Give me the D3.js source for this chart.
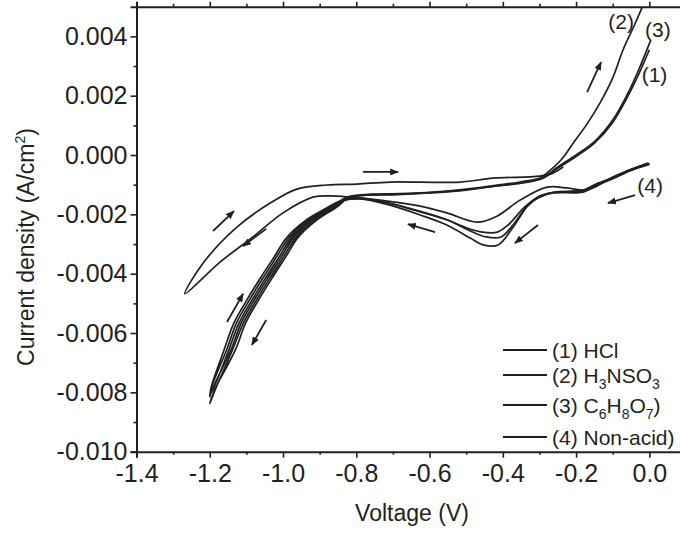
<!DOCTYPE html>
<html lang="en">
<head>
<meta charset="UTF-8">
<title>Current density vs voltage</title>
<script src="https://d3js.org/d3.v7.min.js"></script>
<style>
  body { margin: 0; background: #fff; }
  svg { display: block; font-family: "Liberation Sans", Arial, sans-serif; }
  .curve { fill: none; stroke: #231f20; stroke-width: 1.7; stroke-linejoin: round; }
</style>
</head>
<body>
<svg id="chart" width="680" height="535"></svg>
<script>
// voltage (V), current density (A/cm2)
const hcl = [
  [0.000,-0.00032],[-0.050,-0.00052],[-0.100,-0.00080],[-0.150,-0.00105],[-0.181,-0.00125],
  [-0.263,-0.00128],[-0.299,-0.00142],[-0.326,-0.00162],[-0.372,-0.00243],[-0.413,-0.00303],
  [-0.454,-0.00303],[-0.489,-0.00280],[-0.553,-0.00236],[-0.626,-0.00202],[-0.708,-0.00169],
  [-0.790,-0.00148],[-0.830,-0.00152],[-0.858,-0.00175],[-0.914,-0.00219],[-0.964,-0.00276],
  [-0.999,-0.00344],[-1.034,-0.00411],[-1.073,-0.00489],[-1.108,-0.00566],[-1.138,-0.00657],
  [-1.182,-0.00782],[-1.200,-0.00838],[-1.188,-0.00795],[-1.130,-0.00657],[-1.102,-0.00566],
  [-1.067,-0.00489],[-1.028,-0.00411],[-0.993,-0.00344],[-0.958,-0.00276],[-0.908,-0.00219],
  [-0.853,-0.00175],[-0.822,-0.00145],
  [-0.780,-0.00136],[-0.700,-0.00134],[-0.600,-0.00128],[-0.500,-0.00118],[-0.420,-0.00105],
  [-0.350,-0.00095],[-0.290,-0.00078],[-0.250,-0.00045],[-0.200,-0.00005],[-0.150,0.00040],
  [-0.100,0.00110],[-0.060,0.00195],[-0.030,0.00270],[0.000,0.00355]
];
const sulfamic = [
  [0.000,-0.00028],[-0.050,-0.00048],[-0.100,-0.00076],[-0.150,-0.00100],[-0.180,-0.00118],
  [-0.260,-0.00125],[-0.300,-0.00138],[-0.340,-0.00175],[-0.385,-0.00235],[-0.415,-0.00260],
  [-0.455,-0.00260],[-0.500,-0.00245],[-0.560,-0.00215],[-0.640,-0.00185],[-0.720,-0.00160],
  [-0.800,-0.00147],[-0.845,-0.00155],[-0.880,-0.00178],[-0.940,-0.00222],[-0.990,-0.00278],
  [-1.025,-0.00345],[-1.060,-0.00411],[-1.099,-0.00489],[-1.134,-0.00566],[-1.161,-0.00657],
  [-1.196,-0.00782],[-1.200,-0.00815],[-1.193,-0.00775],[-1.154,-0.00657],[-1.127,-0.00566],
  [-1.092,-0.00489],[-1.053,-0.00411],[-1.018,-0.00344],[-0.982,-0.00276],[-0.932,-0.00219],
  [-0.868,-0.00175],[-0.830,-0.00145],
  [-0.770,-0.00134],[-0.690,-0.00132],[-0.600,-0.00127],[-0.510,-0.00118],[-0.430,-0.00106],
  [-0.360,-0.00095],[-0.300,-0.00080],[-0.280,-0.00061],[-0.240,-0.00015],[-0.208,0.00040],
  [-0.170,0.00105],[-0.135,0.00175],[-0.100,0.00260],[-0.072,0.00354],[-0.040,0.00440],
  [-0.017,0.00506],[0.000,0.00560]
];
const citric = [
  [0.000,-0.00030],[-0.050,-0.00050],[-0.100,-0.00078],[-0.150,-0.00103],[-0.180,-0.00120],
  [-0.270,-0.00128],[-0.305,-0.00145],[-0.335,-0.00175],[-0.375,-0.00240],[-0.405,-0.00276],
  [-0.445,-0.00276],[-0.490,-0.00255],[-0.550,-0.00220],[-0.630,-0.00190],[-0.710,-0.00162],
  [-0.790,-0.00145],[-0.835,-0.00152],[-0.866,-0.00176],[-0.926,-0.00219],[-0.976,-0.00276],
  [-1.011,-0.00344],[-1.046,-0.00411],[-1.085,-0.00489],[-1.120,-0.00566],[-1.148,-0.00657],
  [-1.188,-0.00782],[-1.198,-0.00805],[-1.186,-0.00770],[-1.142,-0.00657],[-1.114,-0.00566],
  [-1.079,-0.00489],[-1.040,-0.00411],[-1.005,-0.00344],[-0.970,-0.00276],[-0.920,-0.00219],
  [-0.860,-0.00175],[-0.826,-0.00142],
  [-0.760,-0.00132],[-0.680,-0.00130],[-0.590,-0.00125],[-0.500,-0.00115],[-0.420,-0.00102],
  [-0.350,-0.00090],[-0.290,-0.00074],[-0.250,-0.00040],[-0.200,0.00000],[-0.150,0.00045],
  [-0.100,0.00118],[-0.060,0.00205],[-0.030,0.00285],[0.003,0.00385]
];
const nonAcid = [
  [-0.004,-0.00027],[-0.094,-0.00071],[-0.170,-0.00118],[-0.225,-0.00111],[-0.279,-0.00108],
  [-0.353,-0.00152],[-0.416,-0.00206],[-0.470,-0.00226],[-0.553,-0.00195],[-0.640,-0.00169],
  [-0.735,-0.00152],[-0.817,-0.00142],[-0.872,-0.00138],[-0.918,-0.00142],[-1.000,-0.00195],
  [-1.082,-0.00276],[-1.172,-0.00361],[-1.268,-0.00468],[-1.218,-0.00364],[-1.126,-0.00243],
  [-1.035,-0.00162],[-0.962,-0.00115],[-0.880,-0.00101],[-0.798,-0.00098],[-0.708,-0.00091],
  [-0.517,-0.00091],[-0.427,-0.00078],[-0.299,-0.00071],[-0.263,-0.00061],[-0.235,-0.00040]
];

const series = [hcl, sulfamic, citric, nonAcid];

// curve tags written inside the plot: text, voltage, current density
const curveTags = [["(1)", 0.014, 0.00246], ["(2)", -0.077, 0.00425], ["(3)", 0.023, 0.00398], ["(4)", 0.002, -0.00128]];

// sweep arrows: [V tail, J tail, V head, J head]
const arrows = [
  [-0.170, 0.00212, -0.132, 0.00313],
  [-0.782, -0.00057, -0.686, -0.00057],
  [-0.039, -0.00135, -0.113, -0.00162],
  [-0.304, -0.00236, -0.367, -0.00297],
  [-0.585, -0.00260, -0.659, -0.00233],
  [-1.191, -0.00256, -1.134, -0.00189],
  [-1.046, -0.00249, -1.109, -0.00307],
  [-1.153, -0.00563, -1.109, -0.00468],
  [-1.046, -0.00556, -1.085, -0.00640]
];

const legendItems = [
  [["(1) HCl", false]],
  [["(2) H", false], ["3", true], ["NSO", false], ["3", true]],
  [["(3) C", false], ["6", true], ["H", false], ["8", true], ["O", false], ["7", true], [")", false]],
  [["(4) Non-acid)", false]]
];

const xTicks = [-1.4, -1.2, -1.0, -0.8, -0.6, -0.4, -0.2, 0.0];
const xMinor = [-1.3, -1.1, -0.9, -0.7, -0.5, -0.3, -0.1];
const yTicks = [-0.010, -0.008, -0.006, -0.004, -0.002, 0.000, 0.002, 0.004];
const yMinor = [-0.009, -0.007, -0.005, -0.003, -0.001, 0.001, 0.003];

const ink = "#231f20";
const font = "'Liberation Sans', Arial, sans-serif";
const plotLeft = 136.5, plotRight = 686, plotTop = 6.7, plotBottom = 451.7;

const svg = d3.select("#chart");

const x = d3.scaleLinear().domain([-1.4, 0.1]).range([plotLeft, plotRight]);
const y = d3.scaleLinear().domain([-0.010, 0.005]).range([plotBottom, plotTop]);

const defs = svg.append("defs");
defs.append("clipPath").attr("id", "plot")
   .append("rect").attr("x", plotLeft).attr("y", plotTop)
   .attr("width", plotRight - plotLeft).attr("height", plotBottom - plotTop);

// axes
svg.append("g")
   .attr("transform", `translate(0,${plotBottom})`)
   .call(d3.axisBottom(x).tickValues(xTicks).tickSize(6).tickPadding(7).tickFormat(d => d.toFixed(1)));
svg.append("g")
   .attr("transform", `translate(0,${plotBottom})`)
   .call(d3.axisBottom(x).tickValues(xMinor).tickSize(3).tickFormat(""))
   .select(".domain").remove();

svg.append("g")
   .attr("transform", `translate(${plotLeft},0)`)
   .call(d3.axisLeft(y).tickValues(yTicks).tickSize(6).tickPadding(3).tickFormat(d => d.toFixed(3)));
svg.append("g")
   .attr("transform", `translate(${plotLeft},0)`)
   .call(d3.axisLeft(y).tickValues(yMinor).tickSize(3).tickFormat(""))
   .select(".domain").remove();

svg.append("g")
   .attr("transform", `translate(0,${plotTop})`)
   .call(d3.axisTop(x).tickValues(xTicks).tickSize(5).tickFormat(""));
svg.append("g")
   .attr("transform", `translate(0,${plotTop})`)
   .call(d3.axisTop(x).tickValues(xMinor).tickSize(3).tickFormat(""))
   .select(".domain").remove();

svg.selectAll("g").attr("font-family", font);
svg.selectAll(".domain").attr("stroke", ink).attr("stroke-width", 2);
svg.selectAll(".tick line").attr("stroke", ink).attr("stroke-width", 1.6);
svg.selectAll(".tick text").attr("fill", ink).attr("font-size", 25);

// curves
const line = d3.line()
   .x(d => x(d[0])).y(d => y(d[1]))
   .curve(d3.curveCatmullRom.alpha(0.5));
svg.append("g").attr("clip-path", "url(#plot)")
   .selectAll("path")
   .data(series)
   .join("path")
   .attr("class", "curve")
   .attr("d", line);

// arrows
defs.append("marker")
   .attr("id", "head")
   .attr("markerUnits", "userSpaceOnUse")
   .attr("viewBox", "0 0 10 8")
   .attr("refX", 9).attr("refY", 4)
   .attr("markerWidth", 9).attr("markerHeight", 7)
   .attr("orient", "auto")
   .append("path").attr("d", "M0,0 L10,4 L0,8 Z").attr("fill", ink);

svg.append("g").selectAll("line")
   .data(arrows)
   .join("line")
   .attr("x1", d => x(d[0])).attr("y1", d => y(d[1]))
   .attr("x2", d => x(d[2])).attr("y2", d => y(d[3]))
   .attr("stroke", ink).attr("stroke-width", 1.8)
   .attr("marker-end", "url(#head)");

// curve tags
svg.append("g").selectAll("text")
   .data(curveTags)
   .join("text")
   .attr("x", d => x(d[1])).attr("y", d => y(d[2]))
   .attr("text-anchor", "middle")
   .attr("font-family", font)
   .attr("font-size", 21).attr("fill", ink)
   .text(d => d[0]);

// legend
const rowY = [350, 375, 405, 437];
const legend = svg.append("g").attr("font-family", font);
legendItems.forEach((parts, i) => {
  legend.append("line")
     .attr("x1", 503).attr("x2", 547)
     .attr("y1", rowY[i]).attr("y2", rowY[i])
     .attr("stroke", ink).attr("stroke-width", 1.8);
  const t = legend.append("text")
     .attr("x", 552).attr("y", rowY[i] + 7.5)
     .attr("font-size", 21).attr("fill", ink);
  let shifted = false;
  parts.forEach(p => {
    const ts = t.append("tspan").text(p[0]);
    if (p[1]) { ts.attr("font-size", 14).attr("dy", 6); shifted = true; }
    else if (shifted) { ts.attr("dy", -6); shifted = false; }
  });
});

// axis titles
svg.append("text")
   .attr("x", 412).attr("y", 521)
   .attr("text-anchor", "middle")
   .attr("font-family", font)
   .attr("font-size", 23).attr("fill", ink)
   .text("Voltage (V)");

const yl = svg.append("text")
   .attr("transform", "translate(34,247) rotate(-90)")
   .attr("text-anchor", "middle")
   .attr("font-family", font)
   .attr("font-size", 23).attr("fill", ink);
yl.append("tspan").text("Current density (A/cm");
yl.append("tspan").attr("font-size", 14).attr("dy", -9).text("2");
yl.append("tspan").attr("dy", 9).text(")");
</script>
</body>
</html>
